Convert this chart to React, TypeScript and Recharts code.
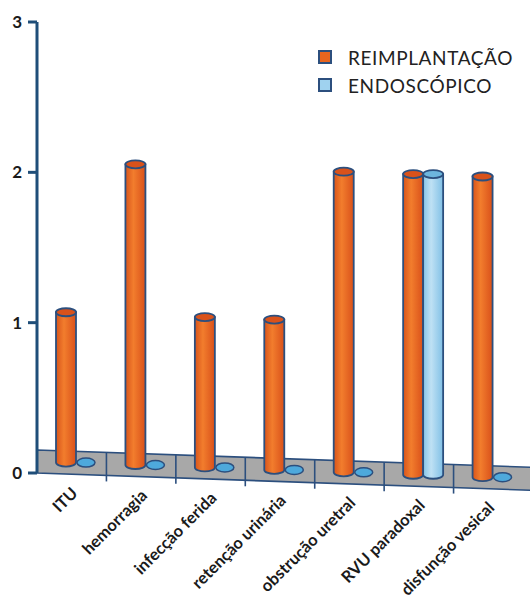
import { BarChart, Bar, XAxis, YAxis, Legend, ReferenceArea } from 'recharts';

const CATEGORIES = [
  'ITU',
  'hemorragia',
  'infecção ferida',
  'retenção urinária',
  'obstrução uretral',
  'RVU paradoxal',
  'disfunção vesical',
];
const REIMPLANTACAO = [1, 2, 1, 1, 2, 2, 2];
const ENDOSCOPICO = [0, 0, 0, 0, 0, 2, 0];
const Y_TICKS = [0, 1, 2, 3];

const SERIES = [
  { key: 'reimplantacao', name: 'REIMPLANTAÇÃO', values: REIMPLANTACAO },
  { key: 'endoscopico', name: 'ENDOSCÓPICO', values: ENDOSCOPICO },
];

const data = CATEGORIES.map((name, i) => ({
  name,
  reimplantacao: REIMPLANTACAO[i],
  endoscopico: ENDOSCOPICO[i],
}));

const OUTLINE = '#2c4f7e';
const FLOOR_DEPTH = 23;
const FLOOR_TILT = 17;
const N = CATEGORIES.length;

// vertical shift of the floor (perspective) at the middle of category i
const floorShift = (i: number) => -FLOOR_DEPTH / 2 + (FLOOR_TILT * (i + 0.45)) / N;

function Cylinder(props: any) {
  const { x, y, width, height, payload, kind } = props;
  const i = CATEGORIES.indexOf(payload?.name);
  const dy = floorShift(i);
  const x0 = x + 4;
  const w = width;
  const cx = x0 + w / 2;
  const top = y + dy;
  const bottom = y + height + dy;
  const ry = 4;
  if (!height || height < 1) {
    return (
      <ellipse cx={cx} cy={bottom} rx={w / 2 - 1} ry={4.5} fill="#4ea9dc" stroke={OUTLINE} strokeWidth={1.5} />
    );
  }
  const grad = kind === 'orange' ? 'url(#gOrange)' : 'url(#gBlue)';
  const topFill = kind === 'orange' ? '#d9521b' : '#6db6de';
  return (
    <g>
      <path
        d={`M${x0},${top} L${x0},${bottom} A${w / 2},${ry} 0 0 0 ${x0 + w},${bottom} L${x0 + w},${top} Z`}
        fill={grad}
        stroke={OUTLINE}
        strokeWidth={1.8}
      />
      <ellipse cx={cx} cy={top} rx={w / 2} ry={ry} fill={topFill} stroke={OUTLINE} strokeWidth={1.8} />
    </g>
  );
}

function Floor(props: any) {
  const { x, y, width, height } = props;
  const base = y + height;
  const bw = width / N;
  const slope = FLOOR_TILT / width;
  const right = x + width + 10;
  const topAt = (px: number) => base - FLOOR_DEPTH + slope * (px - x);
  const botAt = (px: number) => base + slope * (px - x);
  const pts = [
    [x, topAt(x)],
    [right, topAt(right)],
    [right, botAt(right)],
    [x, botAt(x)],
  ]
    .map((p) => p.join(','))
    .join(' ');
  const dividers = CATEGORIES.slice(1).map((_, k) => x + (k + 1) * bw);
  return (
    <g>
      <polygon points={pts} fill="#a8a8a8" stroke={OUTLINE} strokeWidth={1.6} />
      {dividers.map((px) => (
        <line key={px} x1={px} y1={topAt(px)} x2={px} y2={botAt(px) + 6} stroke={OUTLINE} strokeWidth={1.6} />
      ))}
    </g>
  );
}

function CategoryTick(props: any) {
  const { x, y, payload } = props;
  const i = payload.index ?? CATEGORIES.indexOf(payload.value);
  const ty = y + 12 + (FLOOR_TILT * (i + 0.5)) / N;
  return (
    <g transform={`translate(${x + 7},${ty})`}>
      <text
        transform="rotate(-45)"
        textAnchor="end"
        fontFamily="Lato, sans-serif"
        fontWeight={700}
        fontSize={16.5}
        fill="#1a1a1a"
      >
        {payload.value}
      </text>
    </g>
  );
}

function LegendBox() {
  const fills = ['#e8651f', '#9fd2ef'];
  return (
    <div style={{ fontFamily: 'Lato, sans-serif', fontSize: 19, letterSpacing: 0.6, color: '#222' }}>
      {SERIES.map((s, i) => (
        <div key={s.key} style={{ display: 'flex', alignItems: 'center', height: 28 }}>
          <span
            style={{
              display: 'inline-block',
              width: 10,
              height: 10,
              border: `2px solid ${OUTLINE}`,
              background: fills[i],
              marginRight: 16,
            }}
          />
          {s.name}
        </div>
      ))}
    </div>
  );
}

export default function App() {
  return (
    <div style={{ position: 'absolute', left: 0, top: 0, background: '#fff' }}>
      <BarChart
        width={530}
        height={605}
        data={data}
        margin={{ top: 22, right: 7, bottom: 0, left: 0 }}
        barSize={20}
        barGap={0}
      >
        <defs>
          <linearGradient id="gOrange" x1="0" y1="0" x2="1" y2="0">
            <stop offset="0%" stopColor="#d8541b" />
            <stop offset="40%" stopColor="#f27d2d" />
            <stop offset="100%" stopColor="#d9501a" />
          </linearGradient>
          <linearGradient id="gBlue" x1="0" y1="0" x2="1" y2="0">
            <stop offset="0%" stopColor="#86c5e8" />
            <stop offset="40%" stopColor="#bfe1f4" />
            <stop offset="100%" stopColor="#80c0e6" />
          </linearGradient>
        </defs>
        <ReferenceArea y1={0} y2={0.1} ifOverflow="visible" shape={<Floor />} />
        <XAxis
          dataKey="name"
          axisLine={false}
          tickLine={false}
          interval={0}
          tick={<CategoryTick />}
          height={132}
        />
        <YAxis
          domain={[0, 3]}
          ticks={Y_TICKS}
          width={37}
          axisLine={{ stroke: '#1f4e79', strokeWidth: 3 }}
          tickLine={{ stroke: '#1f4e79', strokeWidth: 3 }}
          tickSize={9}
          tickMargin={6}
          tick={{ fontFamily: 'Lato, sans-serif', fontWeight: 700, fontSize: 17, fill: '#1a1a1a' }}
        />
        <Legend
          layout="vertical"
          verticalAlign="middle"
          align="center"
          wrapperStyle={{ top: 43, left: 318, width: 212 }}
          content={<LegendBox />}
        />
        <Bar
          dataKey="reimplantacao"
          name="REIMPLANTAÇÃO"
          isAnimationActive={false}
          shape={(p: any) => <Cylinder {...p} kind="orange" />}
        />
        <Bar
          dataKey="endoscopico"
          name="ENDOSCÓPICO"
          isAnimationActive={false}
          shape={(p: any) => <Cylinder {...p} kind="blue" />}
        />
      </BarChart>
    </div>
  );
}
